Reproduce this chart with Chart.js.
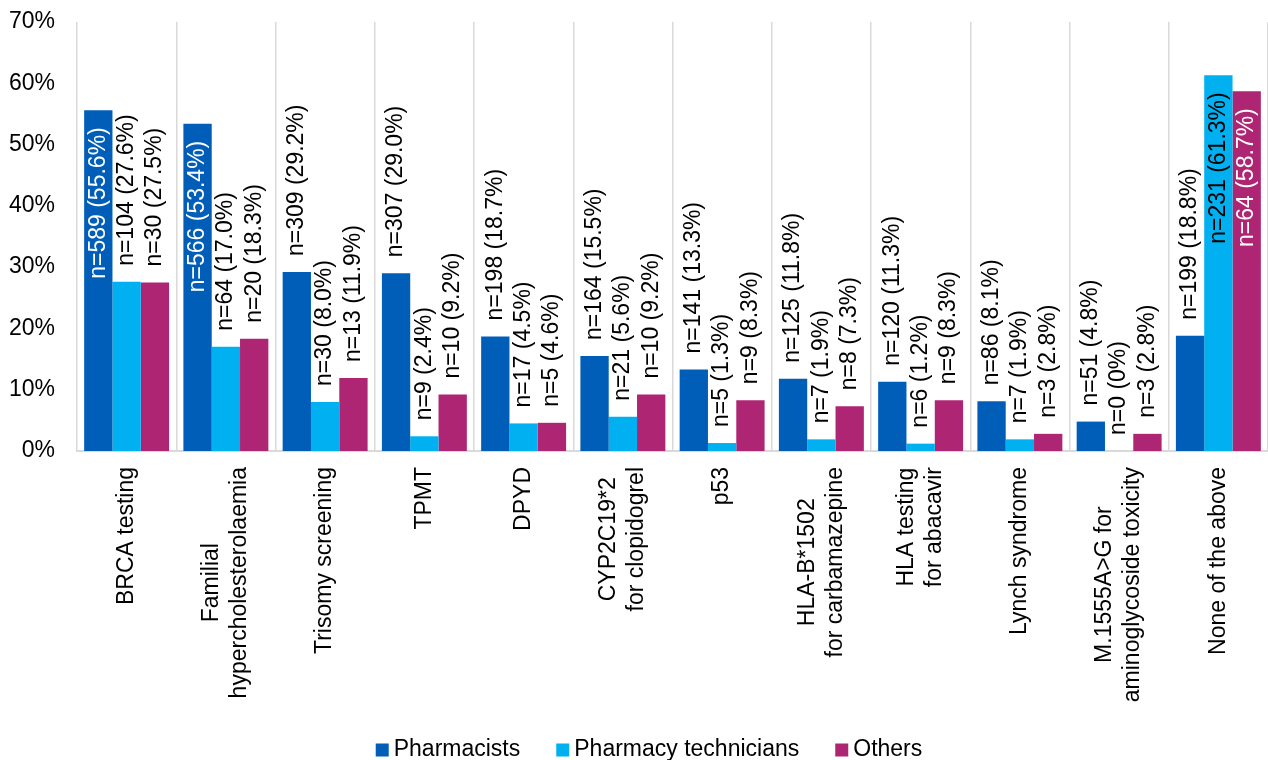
<!DOCTYPE html>
<html>
<head>
<meta charset="utf-8">
<script src="https://cdn.jsdelivr.net/npm/chart.js@4/dist/chart.umd.min.js"></script>
<style>
  html, body { margin: 0; padding: 0; background: #fff; }
  canvas { display: block; }
</style>
</head>
<body>
<canvas id="chart" width="1268" height="760"></canvas>
<script>
// categories (multi-line labels as arrays)
const categories = [
    ['BRCA testing'],
    ['Familial', 'hypercholesterolaemia'],
    ['Trisomy screening'],
    ['TPMT'],
    ['DPYD'],
    ['CYP2C19*2', 'for clopidogrel'],
    ['p53'],
    ['HLA-B*1502', 'for carbamazepine'],
    ['HLA testing', 'for abacavir'],
    ['Lynch syndrome'],
    ['M.1555A>G for', 'aminoglycoside toxicity'],
    ['None of the above']
];

// percentages per group
const pharmacistsPct = [55.6, 53.4, 29.2, 29.0, 18.7, 15.5, 13.3, 11.8, 11.3, 8.1, 4.8, 18.8];
const techniciansPct = [27.6, 17.0, 8.0, 2.4, 4.5, 5.6, 1.3, 1.9, 1.2, 1.9, 0, 61.3];
const othersPct = [27.5, 18.3, 11.9, 9.2, 4.6, 9.2, 8.3, 7.3, 8.3, 2.8, 2.8, 58.7];

// respondent counts per group
const pharmacistsN = [589, 566, 309, 307, 198, 164, 141, 125, 120, 86, 51, 199];
const techniciansN = [104, 64, 30, 9, 17, 21, 5, 7, 6, 7, 0, 231];
const othersN = [30, 20, 13, 10, 5, 10, 9, 8, 9, 3, 3, 64];

const yTicks = [0, 10, 20, 30, 40, 50, 60, 70];

const FONT_FAMILY = '"Liberation Sans", Arial, sans-serif';
const FONT_SIZE = 23;
const LABEL_GAP = 16;

Chart.defaults.font.family = FONT_FAMILY;
Chart.defaults.color = '#000';

function fmtPct(v) {
    return v === 0 ? '0' : v.toFixed(1);
}

// n=.. (..%) labels, outside the bar when they fit, otherwise inside the top
const barLabels = {
    id: 'barLabels',
    afterDatasetsDraw(chart) {
        const ctx = chart.ctx;
        ctx.save();
        ctx.font = `${FONT_SIZE}px ${FONT_FAMILY}`;
        ctx.textBaseline = 'middle';
        chart.data.datasets.forEach((ds, di) => {
            const meta = chart.getDatasetMeta(di);
            meta.data.forEach((bar, i) => {
                const text = `n=${ds.counts[i]} (${fmtPct(ds.data[i])}%)`;
                const w = ctx.measureText(text).width;
                const inside = bar.y - LABEL_GAP - w < 0;
                ctx.save();
                ctx.translate(bar.x, inside ? bar.y + LABEL_GAP + 1 : bar.y - LABEL_GAP);
                ctx.rotate(-Math.PI / 2);
                ctx.textAlign = inside ? 'right' : 'left';
                ctx.fillStyle = inside ? ds.insideColor : '#000';
                ctx.fillText(text, 0, 0);
                ctx.restore();
            });
        });
        ctx.restore();
    }
};

// rotated category labels with centred lines, plus the legend row
const axisAndLegend = {
    id: 'axisAndLegend',
    afterDraw(chart) {
        const ctx = chart.ctx;
        const xScale = chart.scales.x;
        const area = chart.chartArea;
        ctx.save();
        ctx.font = `${FONT_SIZE}px ${FONT_FAMILY}`;
        ctx.fillStyle = '#000';
        ctx.textBaseline = 'middle';
        ctx.textAlign = 'center';
        const lineH = 28;
        chart.data.labels.forEach((lines, i) => {
            const x = xScale.getPixelForValue(i);
            const maxW = Math.max(...lines.map(l => ctx.measureText(l).width));
            const cy = area.bottom + 16 + maxW / 2;
            lines.forEach((line, j) => {
                ctx.save();
                ctx.translate(x + (j - (lines.length - 1) / 2) * lineH, cy);
                ctx.rotate(-Math.PI / 2);
                ctx.fillText(line, 0, 0);
                ctx.restore();
            });
        });

        // legend
        const box = 13, boxGap = 5, itemGap = 36;
        const items = chart.data.datasets.map(ds => ({
            label: ds.label,
            color: ds.backgroundColor,
            w: ctx.measureText(ds.label).width
        }));
        const total = items.reduce((s, it) => s + box + boxGap + it.w, 0) + itemGap * (items.length - 1);
        let lx = chart.width / 2 + 15 - total / 2;
        const ly = 750;
        ctx.textAlign = 'left';
        items.forEach(it => {
            ctx.fillStyle = it.color;
            ctx.fillRect(lx, ly - box / 2, box, box);
            ctx.fillStyle = '#000';
            ctx.fillText(it.label, lx + box + boxGap, ly);
            lx += box + boxGap + it.w + itemGap;
        });
        ctx.restore();
    }
};

new Chart(document.getElementById('chart'), {
    type: 'bar',
    data: {
        labels: categories,
        datasets: [
            { label: 'Pharmacists', data: pharmacistsPct, counts: pharmacistsN,
              backgroundColor: '#005EB8', insideColor: '#fff' },
            { label: 'Pharmacy technicians', data: techniciansPct, counts: techniciansN,
              backgroundColor: '#00B0F0', insideColor: '#000' },
            { label: 'Others', data: othersPct, counts: othersN,
              backgroundColor: '#AE2573', insideColor: '#fff' }
        ]
    },
    options: {
        responsive: false,
        devicePixelRatio: 1,
        animation: false,
        layout: { padding: { top: 22, right: 0, left: 0, bottom: 0 } },
        datasets: {
            bar: { categoryPercentage: 0.856, barPercentage: 1, borderWidth: 0 }
        },
        plugins: {
            legend: { display: false },
            tooltip: { enabled: false }
        },
        scales: {
            x: {
                offset: true,
                ticks: { display: false },
                grid: { color: '#d9d9d9', lineWidth: 1.5, drawTicks: false, offset: true },
                border: { color: '#d9d9d9', width: 2 },
                afterFit(scale) {
                    scale.height = 309;
                    scale.paddingLeft = 0;
                    scale.paddingRight = 0;
                }
            },
            y: {
                min: 0,
                max: 70,
                afterBuildTicks(scale) { scale.ticks = yTicks.map(v => ({ value: v })); },
                ticks: {
                    padding: 22,
                    font: { size: FONT_SIZE },
                    color: '#000',
                    callback: v => v + '%'
                },
                grid: { display: false, drawTicks: false },
                border: { display: false },
                afterFit(scale) {
                    scale.width = 77;
                    scale.paddingTop = 0;
                    scale.paddingBottom = 0;
                }
            }
        }
    },
    plugins: [barLabels, axisAndLegend]
});
</script>
</body>
</html>
